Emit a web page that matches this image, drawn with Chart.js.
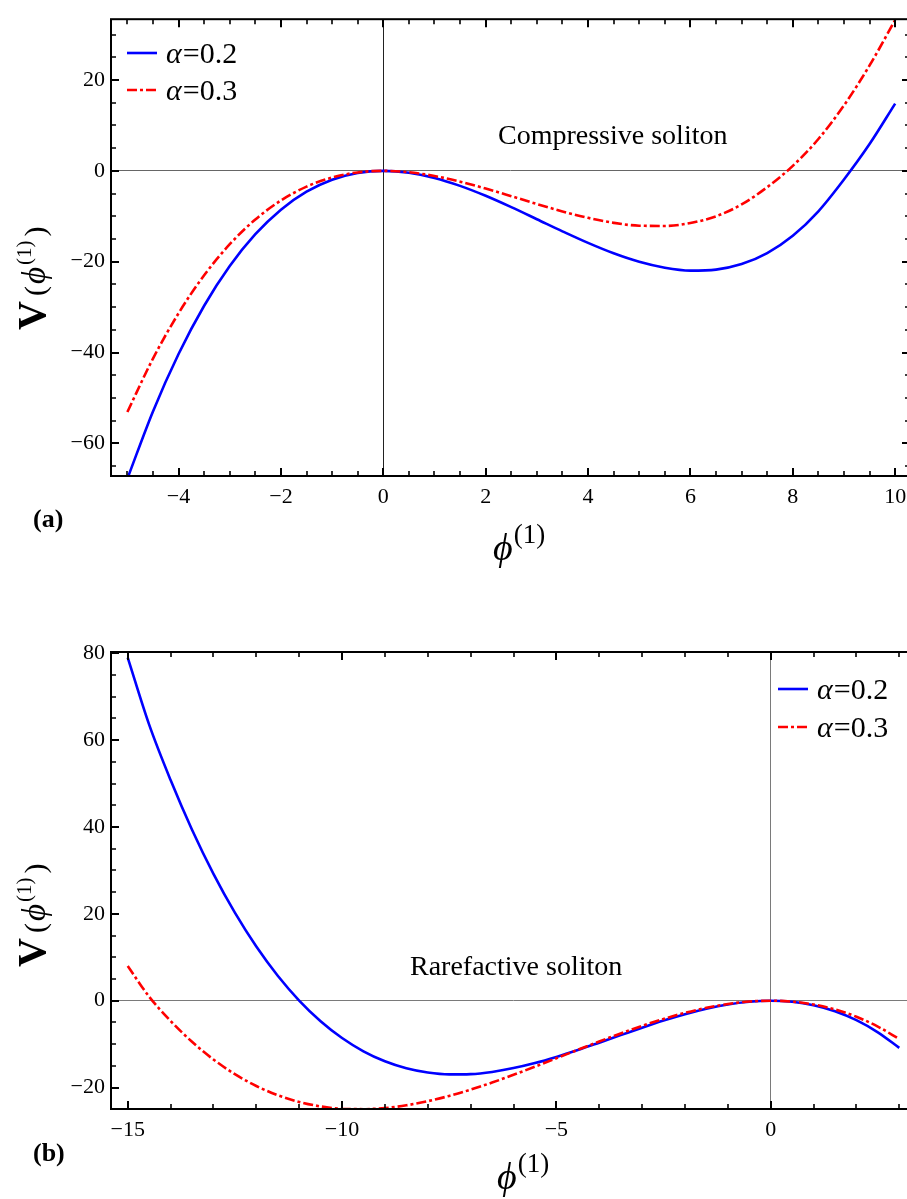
<!DOCTYPE html>
<html>
<head>
<meta charset="utf-8">
<script src="https://cdn.jsdelivr.net/npm/chart.js@4.4.1/dist/chart.umd.min.js"></script>
<style>
  html, body { margin: 0; padding: 0; background: #fff; }
  #wrap { position: relative; width: 907px; height: 1199px; overflow: hidden; }
  canvas { position: absolute; left: 0; }
</style>
</head>
<body>
<div id="wrap">
  <!-- canvases run a little past the page edge: the right frame of each plot is cut off -->
  <canvas id="chartA" width="920" height="600" style="top:0"></canvas>
  <canvas id="chartB" width="920" height="599" style="top:600px"></canvas>
</div>
<script>
// Panel (a): compressive soliton
var phiA = [-5, -4.5, -4, -3.5, -3, -2.5, -2, -1.5, -1, -0.5, 0, 0.5, 1, 1.5, 2, 2.5, 3, 3.5, 4, 4.5,
            5, 5.5, 6, 6.5, 7, 7.5, 8, 8.5, 9, 9.5, 10];
var alpha02A = [-67.78, -52.96, -40.32, -29.70, -20.96, -13.96, -8.55, -4.59, -1.95, -0.46, 0,
                -0.42, -1.57, -3.31, -5.50, -8.00, -10.65, -13.32, -15.87, -18.16, -20.03,
                -21.34, -21.96, -21.74, -20.53, -18.10, -14.30, -8.90, -1.90, 5.90, 14.80];
var alpha03A = [-53.08, -41.33, -31.35, -22.99, -16.16, -10.70, -6.52, -3.48, -1.47, -0.35, 0,
                -0.31, -1.14, -2.38, -3.90, -5.58, -7.30, -8.93, -10.35, -11.45, -12.08,
                -12.13, -11.49, -10.01, -7.40, -3.60, 1.10, 7.00, 14.40, 23.20, 33.20];
var xTicksA = [-4, -2, 0, 2, 4, 6, 8, 10];
var yTicksA = [-60, -40, -20, 0, 20];

// Panel (b): rarefactive soliton
var phiB = [-15, -14.5, -14, -13.5, -13, -12.5, -12, -11.5, -11, -10.5, -10, -9.5, -9, -8.5, -8,
            -7.5, -7, -6.5, -6, -5.5, -5, -4.5, -4, -3.5, -3, -2.5, -2, -1.5, -1, -0.5, 0,
            0.5, 1, 1.5, 2, 2.5, 3];
var alpha02B = [79.0, 63.57, 50.81, 39.37, 29.22, 20.27, 12.47, 5.75, 0.04, -4.73, -8.60,
                -11.66, -13.96, -15.57, -16.55, -16.97, -16.90, -16.40, -15.52, -14.35, -12.94,
                -11.36, -9.66, -7.93, -6.21, -4.58, -3.11, -1.85, -0.86, -0.23, 0,
                -0.25, -1.04, -2.43, -4.49, -7.28, -10.87];
var alpha03B = [8.0, 0.92, -4.66, -9.47, -13.54, -16.92, -19.64, -21.76, -23.31, -24.35, -24.90,
                -25.01, -24.73, -24.09, -23.14, -21.93, -20.48, -18.85, -17.07, -15.19, -13.26,
                -11.31, -9.39, -7.54, -5.79, -4.20, -2.80, -1.64, -0.76, -0.20, 0,
                -0.21, -0.87, -2.02, -3.70, -5.96, -8.83];
var xTicksB = [-15, -10, -5, 0];
var yTicksB = [-20, 0, 20, 40, 60, 80];

var seriesNames = ['α=0.2', 'α=0.3'];

var SERIF = '"Liberation Serif", "Times New Roman", serif';

function fmtTick(v) {
  return v < 0 ? '\u2212' + Math.abs(v) : String(v);
}

function run(ctx, text, font, x, y) {
  ctx.font = font;
  ctx.fillText(text, x, y);
  return x + ctx.measureText(text).width;
}

function isMajor(v, step) {
  var q = v / step;
  return Math.abs(q - Math.round(q)) < 1e-6;
}

// frame, inward ticks, x tick labels, legend, labels
function makeDecor(cfg) {
  return {
    id: 'decor',
    afterDraw: function (chart) {
      var ctx = chart.ctx, a = chart.chartArea;
      var xs = chart.scales.x, ys = chart.scales.y;
      ctx.save();
      ctx.strokeStyle = '#000';
      ctx.lineCap = 'butt';

      var v, px, len;
      for (v = cfg.xMinor[0]; v <= cfg.xMinor[1] + 1e-9; v += cfg.xMinor[2]) {
        px = Math.round(xs.getPixelForValue(v));
        len = isMajor(v, cfg.xMajor) ? 8 : 5;
        ctx.lineWidth = isMajor(v, cfg.xMajor) ? 2 : 1.6;
        ctx.beginPath();
        ctx.moveTo(px, a.bottom); ctx.lineTo(px, a.bottom - len);
        ctx.moveTo(px, a.top); ctx.lineTo(px, a.top + len);
        ctx.stroke();
      }
      for (v = cfg.yMinor[0]; v <= cfg.yMinor[1] + 1e-9; v += cfg.yMinor[2]) {
        px = Math.round(ys.getPixelForValue(v));
        len = isMajor(v, cfg.yMajor) ? 8 : 5;
        ctx.lineWidth = isMajor(v, cfg.yMajor) ? 2 : 1.6;
        ctx.beginPath();
        ctx.moveTo(a.left, px); ctx.lineTo(a.left + len, px);
        ctx.moveTo(a.right, px); ctx.lineTo(a.right - len, px);
        ctx.stroke();
      }
      ctx.lineWidth = 2;
      ctx.strokeRect(a.left, a.top, a.right - a.left, a.bottom - a.top);

      // x tick labels, placed through the x scale
      ctx.fillStyle = '#000';
      ctx.textAlign = 'center';
      ctx.textBaseline = 'alphabetic';
      ctx.font = '22px ' + SERIF;
      cfg.xLabels.forEach(function (t) {
        ctx.fillText(fmtTick(t), xs.getPixelForValue(t), a.bottom + 27);
      });
      ctx.textAlign = 'left';

      // legend
      chart.data.datasets.forEach(function (ds, i) {
        var ly = cfg.legendY[i];
        ctx.strokeStyle = ds.borderColor;
        ctx.lineWidth = ds.borderWidth;
        ctx.setLineDash(ds.borderDash || []);
        ctx.beginPath();
        ctx.moveTo(cfg.legendX, ly);
        ctx.lineTo(cfg.legendX + 30, ly);
        ctx.stroke();
        ctx.setLineDash([]);
        var tx = run(ctx, ds.label.charAt(0), 'italic 30px ' + SERIF, cfg.legendX + 39, ly + 10);
        run(ctx, ds.label.slice(1), '30px ' + SERIF, tx + 1, ly + 10);
      });

      // annotation
      run(ctx, cfg.note, '28px ' + SERIF, cfg.noteX, cfg.noteY);

      // x-axis title
      var xt = run(ctx, '\u03d5', 'italic 38px ' + SERIF, cfg.xTitle[0], cfg.xTitle[1]);
      run(ctx, '(1)', '27px ' + SERIF, xt + 1, cfg.xTitle[1] - 17);

      // y-axis title, rotated
      ctx.save();
      ctx.translate(cfg.yTitle[0], cfg.yTitle[1]);
      ctx.rotate(-Math.PI / 2);
      var c = run(ctx, 'V', 'bold 40px ' + SERIF, 0, 0);
      c = run(ctx, '(', '30px ' + SERIF, c + 5, 0);
      c = run(ctx, '\u03d5', 'italic 33px ' + SERIF, c + 2, 0);
      c = run(ctx, '(1)', '21px ' + SERIF, c + 2, -14);
      run(ctx, ')', '30px ' + SERIF, c + 4, 0);
      ctx.restore();

      // panel label
      run(ctx, cfg.panel, 'bold 26px ' + SERIF, 33, cfg.panelY);
      ctx.restore();
    }
  };
}

function makeChart(id, phi, s02, s03, xTicks, yTicks, cfg) {
  var zeroCol = cfg.zeroCol;
  cfg.xLabels = xTicks;
  new Chart(document.getElementById(id), {
    type: 'line',
    data: {
      datasets: [
        {
          label: seriesNames[0],
          data: phi.map(function (x, i) { return { x: x, y: s02[i] }; }),
          borderColor: '#0000ff',
          borderWidth: 2.6,
          pointRadius: 0,
          cubicInterpolationMode: 'monotone',
          fill: false,
          order: 1
        },
        {
          label: seriesNames[1],
          data: phi.map(function (x, i) { return { x: x, y: s03[i] }; }),
          borderColor: '#ff0000',
          borderWidth: 2.6,
          borderDash: [10, 3, 3, 3],
          pointRadius: 0,
          cubicInterpolationMode: 'monotone',
          fill: false,
          order: 0
        }
      ]
    },
    options: {
      responsive: false,
      animation: false,
      events: [],
      layout: { padding: { top: cfg.top, right: cfg.right, left: 0, bottom: 0 } },
      plugins: { legend: { display: false }, tooltip: { enabled: false } },
      scales: {
        x: {
          type: 'linear',
          min: cfg.xRange[0],
          max: cfg.xRange[1],
          afterBuildTicks: function (s) { s.ticks = xTicks.map(function (v) { return { value: v }; }); },
          afterFit: function (s) { s.height = cfg.xAxisH; },
          border: { display: false },
          grid: {
            drawTicks: false,
            lineWidth: 1,
            color: function (c) { return c.tick && c.tick.value === 0 ? zeroCol[0] : 'rgba(0,0,0,0)'; }
          },
          ticks: { display: false }
        },
        y: {
          type: 'linear',
          min: cfg.yRange[0],
          max: cfg.yRange[1],
          afterBuildTicks: function (s) { s.ticks = yTicks.map(function (v) { return { value: v }; }); },
          afterFit: function (s) { s.width = 111; },
          border: { display: false },
          grid: {
            drawTicks: false,
            lineWidth: 1,
            color: function (c) { return c.tick && c.tick.value === 0 ? zeroCol[1] : 'rgba(0,0,0,0)'; }
          },
          ticks: {
            color: '#000',
            font: { family: SERIF, size: 22 },
            padding: 6,
            autoSkip: false,
            callback: fmtTick
          }
        }
      }
    },
    plugins: [makeDecor(cfg)]
  });
}

makeChart('chartA', phiA, alpha02A, alpha03A, xTicksA, yTicksA, {
  top: 13, right: 10, xAxisH: 124,
  xRange: [-5.32, 10.29], yRange: [-67.18, 33.38],
  xMinor: [-5, 10, 0.5], xMajor: 2,
  yMinor: [-65, 30, 5], yMajor: 20,
  zeroCol: ['#222', '#666'],
  legendX: 127, legendY: [53, 90],
  note: 'Compressive soliton', noteX: 498, noteY: 144,
  xTitle: [493, 560], yTitle: [45, 330],
  panel: '(a)', panelY: 527
});

makeChart('chartB', phiB, alpha02B, alpha03B, xTicksB, yTicksB, {
  top: 52, right: 4, xAxisH: 90,
  xRange: [-15.39, 3.39], yRange: [-24.94, 80.3],
  xMinor: [-15, 3, 1], xMajor: 5,
  yMinor: [-20, 80, 5], yMajor: 20,
  zeroCol: ['#7a7a7a', '#7a7a7a'],
  legendX: 778, legendY: [89, 127],
  note: 'Rarefactive soliton', noteX: 410, noteY: 375,
  xTitle: [497, 589], yTitle: [45, 367],
  panel: '(b)', panelY: 561
});
</script>
</body>
</html>
